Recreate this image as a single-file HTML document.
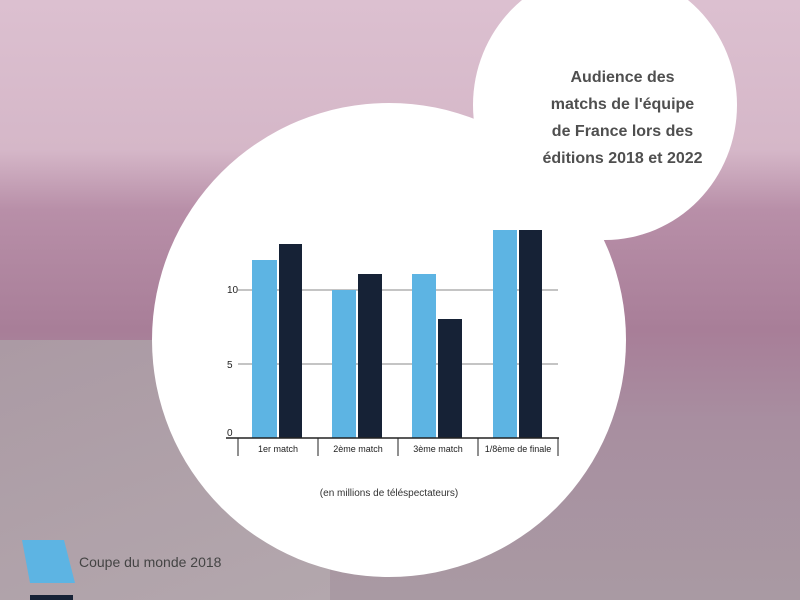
<!DOCTYPE html>
<html><head><meta charset="utf-8"><style>
body{margin:0;width:800px;height:600px;overflow:hidden;position:relative;font-family:"Liberation Sans",sans-serif;
background:linear-gradient(180deg,#dcc0d0 0%,#d5b7c8 25%,#b88fa8 35%,#a87e98 55%,#a88ea0 70%,#a99aa3 100%);}
.bg2{position:absolute;left:0;top:340px;width:330px;height:260px;background:linear-gradient(160deg,#ab9aa4,#b3a7ad);}
.c{position:absolute;background:#fff;border-radius:50%}
</style></head><body>
<div class="bg2"></div>
<div class="c" style="left:152px;top:103px;width:474px;height:474px"></div>
<div class="c" style="left:473px;top:-30px;width:264px;height:270px"></div>
<div style="position:absolute;left:510px;top:64px;width:225px;text-align:center;font-size:16px;line-height:27px;color:#4f4f4f;font-weight:bold">Audience des<br>matchs de l'équipe<br>de France lors des<br>éditions 2018 et 2022</div>
<svg style="position:absolute;left:0;top:0" width="800" height="600">
<g stroke="#888" stroke-width="1"><line x1="238" y1="290" x2="558" y2="290"/><line x1="238" y1="364" x2="558" y2="364"/></g>
<g font-size="10" fill="#222"><text x="227" y="293">10</text><text x="227" y="368">5</text><text x="227" y="436">0</text></g>
<g fill="#5db4e3"><rect x="252" y="260" width="25" height="178"/><rect x="332" y="290" width="24" height="148"/><rect x="412" y="274" width="24" height="164"/><rect x="493" y="230" width="24" height="208"/></g>
<g fill="#162236"><rect x="279" y="244" width="23" height="194"/><rect x="358" y="274" width="24" height="164"/><rect x="438" y="319" width="24" height="119"/><rect x="519" y="230" width="23" height="208"/></g>
<g stroke="#222"><line x1="226" y1="438" x2="559" y2="438" stroke-width="1.5"/><line x1="238" y1="438" x2="238" y2="456"/><line x1="318" y1="438" x2="318" y2="456"/><line x1="398" y1="438" x2="398" y2="456"/><line x1="478" y1="438" x2="478" y2="456"/><line x1="558" y1="438" x2="558" y2="456"/></g>
<g font-size="9" fill="#222" text-anchor="middle"><text x="278" y="452">1er match</text><text x="358" y="452">2ème match</text><text x="438" y="452">3ème match</text><text x="518" y="452">1/8ème de finale</text></g>
<text x="389" y="496" font-size="10" fill="#333" text-anchor="middle">(en millions de téléspectateurs)</text>
<polygon points="22,540 64,540 75,583 30,583" fill="#5db4e3"/>
<rect x="30" y="595" width="43" height="10" fill="#162236"/>
<text x="79" y="567" font-size="14" fill="#444">Coupe du monde 2018</text>
</svg>
</body></html>
